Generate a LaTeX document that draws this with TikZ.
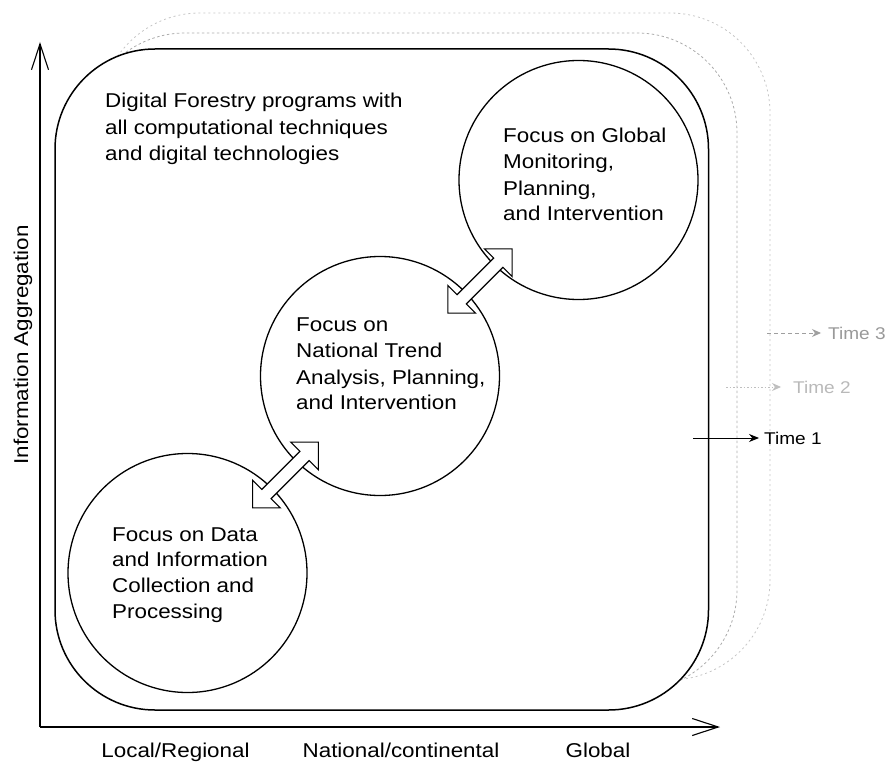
\documentclass[tikz,border=0pt]{standalone}
\usepackage{fontspec}
\setmainfont{Liberation Sans}[FakeStretch=1.12]
\usetikzlibrary{arrows.meta,shapes.arrows}
\begin{document}
\begin{tikzpicture}[x=1pt,y=-1pt,
  txt/.style={font=\fontsize{20}{26}\selectfont, inner sep=0pt, anchor=base west},
  axlab/.style={font=\fontsize{20}{26}\selectfont, inner sep=0pt, anchor=base},
  timelab/.style={font=\fontsize{17}{20}\selectfont, inner sep=0pt, anchor=west},
  circ/.style={circle, draw, line width=1.3pt, inner sep=0pt, minimum size=239pt},
  blockarrow/.style={double arrow, draw, fill=white, line width=1.1pt, inner sep=0pt,
    double arrow tip angle=90, double arrow head extend=13pt, rotate=45},
  axis/.style={line width=1.1pt, -{Straight Barb[length=26pt,width=17pt,line width=1.1pt]}},
  dashT2/.style={gray!65, line width=0.8pt, dash pattern=on 2.5pt off 2.5pt},
  dashT3/.style={gray!45, line width=0.8pt, dash pattern=on 2pt off 3pt}
]
\useasboundingbox (0,0) rectangle (891,762);

% later time frames (partially hidden behind the first one)
\draw[dashT3, rounded corners=100pt] (100,13) rectangle (770,680);
\draw[dashT2, rounded corners=100pt] (85,33) rectangle (737,690);

% Time 1 frame
\draw[line width=1.5pt, fill=white, rounded corners=100pt] (55,49) rectangle (708.5,710);

% axes
\coordinate (O) at (40,727);
\coordinate (ytop) at (40,42);
\coordinate (xend) at (720,727);
\draw[axis] (O) -- (ytop);
\draw[axis] (O) -- (xend);

% circles
\node[circ] (cg) at (578.5,180) {};
\node[circ] (cn) at (380,376) {};
\node[circ] (cl) at (187.5,573) {};

% block double arrows
\node[blockarrow, minimum height=93pt] (a1) at (285.5,475) {\rule{0pt}{12pt}};
\node[blockarrow, minimum height=91pt] (a2) at (480,281) {\rule{0pt}{12pt}};

% top-left text
\node[txt] (d1) at (105,108) {Digital Forestry programs with};
\node[txt] (d2) at (105,135) {all computational techniques};
\node[txt] (d3) at (105,161) {and digital technologies};

% global circle text
\node[txt] (g1) at (503,143) {Focus on Global};
\node[txt] (g2) at (503,169) {Monitoring,};
\node[txt] (g3) at (503,196) {Planning,};
\node[txt] (g4) at (503,221) {and Intervention};

% national circle text
\node[txt] (n1) at (296,331) {Focus on};
\node[txt] (n2) at (296,357) {National Trend};
\node[txt] (n3) at (296,384) {Analysis, Planning,};
\node[txt] (n4) at (296,409) {and Intervention};

% local circle text
\node[txt] (l1) at (112,541) {Focus on Data};
\node[txt] (l2) at (112,566) {and Information};
\node[txt] (l3) at (112,592) {Collection and};
\node[txt] (l4) at (112,618) {Processing};

% axis labels
\node[axlab] (xl1) at (175.5,757) {Local/Regional};
\node[axlab] (xl2) at (401,757) {National/continental};
\node[axlab] (xl3) at (598,757) {Global};
\node[font=\fontsize{20}{26}\selectfont, inner sep=0pt, rotate=90] (yl) at (23,345) {Information Aggregation};

% time labels
\node[timelab] (t1) at (764,438) {Time 1};
\node[timelab, text=gray!55] (t2) at (793,387) {Time 2};
\node[timelab, text=gray!80] (t3) at (828,333) {Time 3};
\coordinate (t1s) at (693,438);
\coordinate (t2s) at (726,387);
\coordinate (t3s) at (767,333);
\draw[line width=1pt, -{Stealth[length=10pt,width=8pt]}, shorten >=5pt] (t1s) -- (t1.west);
\draw[gray!50, line width=0.9pt, dash pattern=on 1.5pt off 2pt, -{Stealth[length=9pt,width=8pt]}, shorten >=12pt] (t2s) -- (t2.west);
\draw[gray!75, line width=0.9pt, dash pattern=on 4pt off 3pt, -{Stealth[length=9pt,width=8pt]}, shorten >=7pt] (t3s) -- (t3.west);
\end{tikzpicture}
\end{document}
